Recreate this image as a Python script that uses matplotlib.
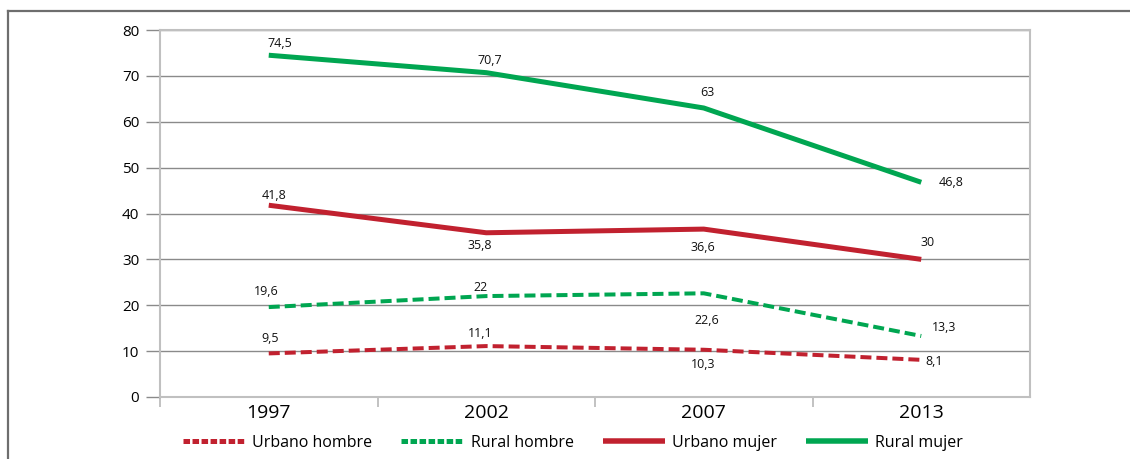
import matplotlib
matplotlib.use("Agg")
import matplotlib.pyplot as plt
from matplotlib.lines import Line2D

plt.rcParams['font.family'] = ['Open Sans', 'DejaVu Sans']
plt.rcParams['lines.scale_dashes'] = False

years = ['1997', '2002', '2007', '2013']
urbano_hombre = [9.5, 11.1, 10.3, 8.1]
rural_hombre = [19.6, 22, 22.6, 13.3]
urbano_mujer = [41.8, 35.8, 36.6, 30]
rural_mujer = [74.5, 70.7, 63, 46.8]
series_names = ['Urbano hombre', 'Rural hombre', 'Urbano mujer', 'Rural mujer']

RED = '#C1212F'
GREEN = '#00A651'

# label offsets in pixels (dx, dy, ha) for each point
label_pos = {
    'Urbano hombre': [(1, 15, 'center'), (-6, 13, 'center'), (-1, -15, 'center'), (4, -2, 'left')],
    'Rural hombre': [(-2, 16, 'center'), (-6, 9, 'center'), (3, -27, 'center'), (11, 8, 'left')],
    'Urbano mujer': [(5, 10, 'center'), (-6, -13, 'center'), (-1, -18, 'center'), (6, 17, 'center')],
    'Rural mujer': [(-1, 12, 'left'), (-9, 12, 'left'), (4, 15, 'center'), (17, 0, 'left')],
}

px = 0.72  # points per pixel at dpi 100

fig = plt.figure(figsize=(11.3, 4.59), dpi=100)
ax = fig.add_axes([160 / 1130, 62 / 459, 870 / 1130, 367 / 459])

x = list(range(len(years)))
styles = {
    'Urbano hombre': dict(color=RED, lw=4 * px, dashes=(11 * px, 5 * px)),
    'Rural hombre': dict(color=GREEN, lw=4 * px, dashes=(11 * px, 5 * px)),
    'Urbano mujer': dict(color=RED, lw=5 * px),
    'Rural mujer': dict(color=GREEN, lw=5 * px),
}
data = {
    'Urbano hombre': urbano_hombre,
    'Rural hombre': rural_hombre,
    'Urbano mujer': urbano_mujer,
    'Rural mujer': rural_mujer,
}

for name in series_names:
    vals = data[name]
    ax.plot(x, vals, solid_capstyle='butt', dash_capstyle='butt', zorder=3, **styles[name])
    for xi, v, (dx, dy, ha) in zip(x, vals, label_pos[name]):
        txt = ('%g' % v).replace('.', ',')
        ax.annotate(txt, (xi, v), xytext=(dx * px, dy * px), textcoords='offset points',
                    ha=ha, va='center', fontsize=9, color='#111111', zorder=4)

ax.set_xlim(-0.5, 3.5)
ax.set_ylim(0, 80)
ax.set_yticks(range(0, 81, 10))
ax.set_xticks(x)
ax.set_xticklabels(years, fontsize=14, color='#000000')
ax.set_xticks([-0.5, 0.5, 1.5, 2.5], minor=True)
ax.tick_params(axis='x', which='major', length=0, pad=5)
ax.tick_params(axis='x', which='minor', length=7, color='#b8b8b8', width=1.2)
ax.tick_params(axis='y', length=10, color='#8a8a8a', width=1, labelsize=11,
               labelcolor='#000000', pad=5)

ax.grid(axis='y', color='#8a8a8a', lw=1, zorder=0)
for side in ['left', 'bottom', 'top', 'right']:
    ax.spines[side].set_color('#c0c0c0')
    ax.spines[side].set_linewidth(1.5)

handles = [
    Line2D([], [], color=RED, lw=5 * px, dashes=(4.7, 1.8), solid_capstyle='butt', dash_capstyle='butt'),
    Line2D([], [], color=GREEN, lw=5 * px, dashes=(4.7, 1.8), solid_capstyle='butt', dash_capstyle='butt'),
    Line2D([], [], color=RED, lw=5.5 * px, solid_capstyle='butt'),
    Line2D([], [], color=GREEN, lw=5.5 * px, solid_capstyle='butt'),
]
fig.legend(handles, series_names, loc='center', bbox_to_anchor=(573 / 1130, 1 - 443 / 459),
           ncol=4, frameon=False, fontsize=11.5, handlelength=3.9, handletextpad=0.45,
           columnspacing=1.8)

# outer frame of the figure panel
fig.add_artist(Line2D([8 / 1130, 1], [1 - 11 / 459, 1 - 11 / 459], color='#6e6e6e', lw=1.6))
fig.add_artist(Line2D([8 / 1130, 8 / 1130], [0, 1 - 11 / 459], color='#6e6e6e', lw=1.6))

fig.savefig('out.png', dpi=100)
